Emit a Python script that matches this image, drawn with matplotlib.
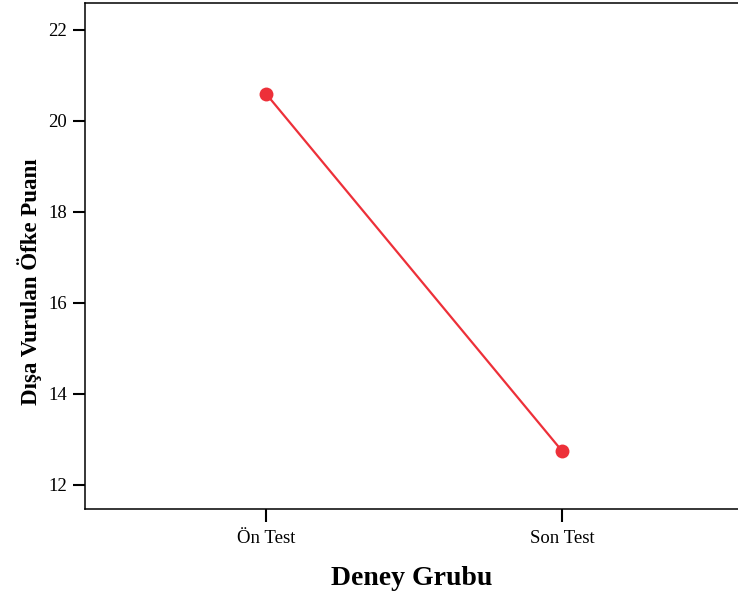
import matplotlib
matplotlib.use('Agg')
import matplotlib.pyplot as plt

groups = ['Ön Test', 'Son Test']
scores = [20.6, 12.75]
y_ticks = [12, 14, 16, 18, 20, 22]

plt.rcParams['font.family'] = ['Liberation Serif', 'DejaVu Serif']

fig = plt.figure(figsize=(7.38, 5.95), dpi=100)
ax = fig.add_axes([85 / 738, 86 / 595, 1 - 85 / 738, (592 - 86) / 595])

x = list(range(len(groups)))
ax.plot(x, scores, color='#ED3039', linewidth=1.6, marker='o',
        markersize=10, markeredgewidth=0, zorder=3)

ax.set_xlim(-0.611, 1.595)
ax.set_ylim(11.47, 22.59)
ax.set_xticks(x)
ax.set_xticklabels(groups)
ax.set_yticks(y_ticks)

for side in ['left', 'bottom', 'top']:
    ax.spines[side].set_linewidth(1.1)
ax.spines['right'].set_visible(False)

ax.tick_params(axis='both', direction='out', length=9, width=1.5,
               labelsize=13.5, pad=4)
ax.tick_params(axis='x', pad=6)

ax.set_xlabel('Deney Grubu', fontsize=20, fontweight='bold', labelpad=14)
ax.set_ylabel('Dışa Vurulan Öfke Puanı', fontsize=16.5, fontweight='bold')
ax.yaxis.set_label_coords(-0.066, 0.45)

fig.savefig('out.png', dpi=100)
